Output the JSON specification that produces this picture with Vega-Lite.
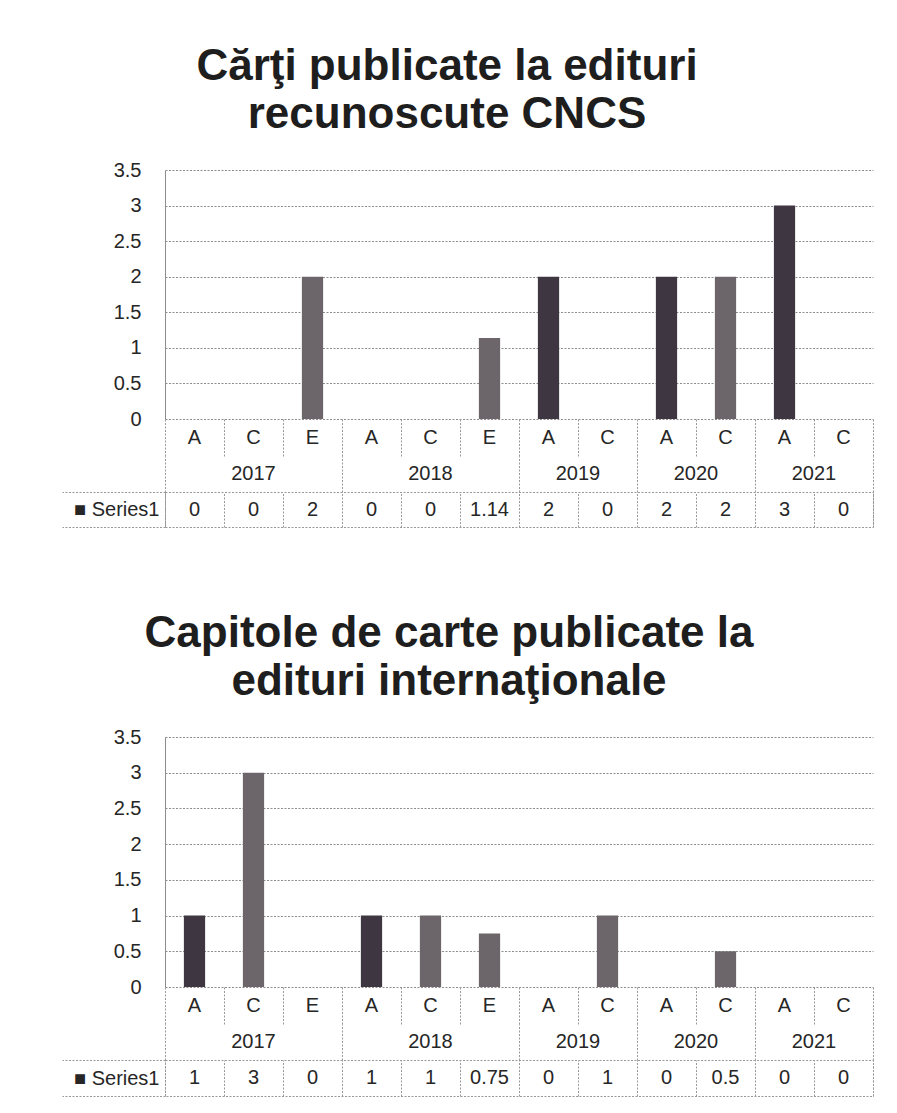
{
  "$schema": "https://vega.github.io/schema/vega-lite/v6.json",
  "background": "white",
  "padding": {"left": 61, "top": 45, "right": 10, "bottom": 10},
  "datasets": {
    "carti": [
      {"year": "2017", "letter": "A", "key": "2017-A", "value": 0},
      {"year": "2017", "letter": "C", "key": "2017-C", "value": 0},
      {"year": "2017", "letter": "E", "key": "2017-E", "value": 2},
      {"year": "2018", "letter": "A", "key": "2018-A", "value": 0},
      {"year": "2018", "letter": "C", "key": "2018-C", "value": 0},
      {"year": "2018", "letter": "E", "key": "2018-E", "value": 1.14},
      {"year": "2019", "letter": "A", "key": "2019-A", "value": 2},
      {"year": "2019", "letter": "C", "key": "2019-C", "value": 0},
      {"year": "2020", "letter": "A", "key": "2020-A", "value": 2},
      {"year": "2020", "letter": "C", "key": "2020-C", "value": 2},
      {"year": "2021", "letter": "A", "key": "2021-A", "value": 3},
      {"year": "2021", "letter": "C", "key": "2021-C", "value": 0}
    ],
    "capitole": [
      {"year": "2017", "letter": "A", "key": "2017-A", "value": 1},
      {"year": "2017", "letter": "C", "key": "2017-C", "value": 3},
      {"year": "2017", "letter": "E", "key": "2017-E", "value": 0},
      {"year": "2018", "letter": "A", "key": "2018-A", "value": 1},
      {"year": "2018", "letter": "C", "key": "2018-C", "value": 1},
      {"year": "2018", "letter": "E", "key": "2018-E", "value": 0.75},
      {"year": "2019", "letter": "A", "key": "2019-A", "value": 0},
      {"year": "2019", "letter": "C", "key": "2019-C", "value": 1},
      {"year": "2020", "letter": "A", "key": "2020-A", "value": 0},
      {"year": "2020", "letter": "C", "key": "2020-C", "value": 0.5},
      {"year": "2021", "letter": "A", "key": "2021-A", "value": 0},
      {"year": "2021", "letter": "C", "key": "2021-C", "value": 0}
    ]
  },
  "spacing": 84,
  "vconcat": [
    {
      "bounds": "flush",
      "spacing": 0,
      "resolve": {"scale": {"x": "independent", "y": "independent"}},
      "vconcat": [
        {
          "title": {"text": ["Cărţi publicate la edituri", "recunoscute CNCS"], "dx": -72},
          "width": 708, "height": 249,
          "data": {"name": "carti"},
          "view": {"stroke": null},
          "mark": {"type": "bar"},
          "encoding": {
            "x": {"field": "key", "type": "nominal", "axis": null,
                  "scale": {"domain": ["2017-A","2017-C","2017-E","2018-A","2018-C","2018-E","2019-A","2019-C","2020-A","2020-C","2021-A","2021-C"], "paddingInner": 0.64, "paddingOuter": 0.32}},
            "y": {"field": "value", "type": "quantitative",
                  "scale": {"domain": [0, 3.5], "nice": false},
                  "axis": {"title": null, "values": [0, 0.5, 1, 1.5, 2, 2.5, 3, 3.5], "format": "~g", "grid": true, "gridDash": [2, 1.5], "gridColor": "#8c8c8c", "domain": true, "domainColor": "#8c8c8c", "ticks": false, "labelPadding": 24}},
            "color": {"field": "letter", "type": "nominal", "legend": null,
                      "scale": {"domain": ["A", "C", "E"], "range": ["#3e3640", "#6c666b", "#6c666b"]}}
          }
        },
        {
          "width": 708, "height": 37,
          "data": {"name": "carti"},
          "view": {"stroke": null},
          "mark": {"type": "text"},
          "encoding": {
            "x": {"field": "key", "type": "nominal",
                  "scale": {"type": "band", "domain": ["2017-A","2017-C","2017-E","2018-A","2018-C","2018-E","2019-A","2019-C","2020-A","2020-C","2021-A","2021-C"], "paddingInner": 0, "paddingOuter": 0},
                  "axis": {"title": null, "labels": false, "ticks": false, "domain": false, "grid": true, "tickBand": "extent", "gridDash": [2, 1.5], "gridColor": "#999999"}},
            "text": {"field": "letter", "type": "nominal"}
          }
        },
        {
          "width": 708, "height": 36,
          "data": {"name": "carti"},
          "view": {"stroke": null},
          "transform": [
            {"joinaggregate": [{"op": "count", "as": "n"}], "groupby": ["year"]},
            {"filter": "datum.letter == 'C'"}
          ],
          "layer": [
            {
              "transform": [{"filter": "datum.n == 3"}],
              "mark": {"type": "text"},
              "encoding": {
                "x": {"field": "key", "type": "nominal",
                      "scale": {"type": "band", "domain": ["2017-A","2017-C","2017-E","2018-A","2018-C","2018-E","2019-A","2019-C","2020-A","2020-C","2021-A","2021-C"], "paddingInner": 0, "paddingOuter": 0},
                      "axis": {"title": null, "labels": false, "ticks": false, "domain": false, "grid": true, "tickBand": "extent", "gridDash": [2, 1.5], "gridColor": "#999999",
                               "gridOpacity": {"condition": {"test": "datum.extra || indexof(['2017-E','2018-E','2019-C','2020-C','2021-C'], datum.value) >= 0", "value": 1}, "value": 0}}},
                "text": {"field": "year", "type": "nominal"}
              }
            },
            {
              "transform": [{"filter": "datum.n == 2"}],
              "mark": {"type": "text"},
              "encoding": {
                "x": {"field": "key", "type": "nominal", "bandPosition": 0},
                "text": {"field": "year", "type": "nominal"}
              }
            }
          ]
        },
        {
          "width": 708, "height": 35,
          "data": {"name": "carti"},
          "view": {"stroke": "#999999", "strokeDash": [2, 1.5]},
          "mark": {"type": "text"},
          "encoding": {
            "x": {"field": "key", "type": "nominal",
                  "scale": {"type": "band", "domain": ["2017-A","2017-C","2017-E","2018-A","2018-C","2018-E","2019-A","2019-C","2020-A","2020-C","2021-A","2021-C"], "paddingInner": 0, "paddingOuter": 0},
                  "axis": {"title": null, "labels": false, "ticks": false, "domain": false, "grid": true, "tickBand": "extent", "gridDash": [2, 1.5], "gridColor": "#999999"}},
            "y": {"datum": "Series1", "type": "nominal",
                  "scale": {"type": "band", "paddingInner": 0, "paddingOuter": 0},
                  "axis": {"title": null, "domain": false, "grid": false, "ticks": true, "tickBand": "extent", "tickSize": 103, "tickDash": [2, 1.5], "tickColor": "#999999", "labelPadding": -97, "labelExpr": "datum.label ? '■ ' + datum.label : ''"}},
            "text": {"field": "value", "type": "nominal"}
          }
        }
      ]
    },
    {
      "bounds": "flush",
      "spacing": 0,
      "resolve": {"scale": {"x": "independent", "y": "independent"}},
      "vconcat": [
        {
          "title": {"text": ["Capitole de carte publicate la", "edituri internaţionale"], "dx": -70},
          "width": 708, "height": 250,
          "data": {"name": "capitole"},
          "view": {"stroke": null},
          "mark": {"type": "bar"},
          "encoding": {
            "x": {"field": "key", "type": "nominal", "axis": null,
                  "scale": {"domain": ["2017-A","2017-C","2017-E","2018-A","2018-C","2018-E","2019-A","2019-C","2020-A","2020-C","2021-A","2021-C"], "paddingInner": 0.64, "paddingOuter": 0.32}},
            "y": {"field": "value", "type": "quantitative",
                  "scale": {"domain": [0, 3.5], "nice": false},
                  "axis": {"title": null, "values": [0, 0.5, 1, 1.5, 2, 2.5, 3, 3.5], "format": "~g", "grid": true, "gridDash": [2, 1.5], "gridColor": "#8c8c8c", "domain": true, "domainColor": "#8c8c8c", "ticks": false, "labelPadding": 24}},
            "color": {"field": "letter", "type": "nominal", "legend": null,
                      "scale": {"domain": ["A", "C", "E"], "range": ["#3e3640", "#6c666b", "#6c666b"]}}
          }
        },
        {
          "width": 708, "height": 37,
          "data": {"name": "capitole"},
          "view": {"stroke": null},
          "mark": {"type": "text"},
          "encoding": {
            "x": {"field": "key", "type": "nominal",
                  "scale": {"type": "band", "domain": ["2017-A","2017-C","2017-E","2018-A","2018-C","2018-E","2019-A","2019-C","2020-A","2020-C","2021-A","2021-C"], "paddingInner": 0, "paddingOuter": 0},
                  "axis": {"title": null, "labels": false, "ticks": false, "domain": false, "grid": true, "tickBand": "extent", "gridDash": [2, 1.5], "gridColor": "#999999"}},
            "text": {"field": "letter", "type": "nominal"}
          }
        },
        {
          "width": 708, "height": 36,
          "data": {"name": "capitole"},
          "view": {"stroke": null},
          "transform": [
            {"joinaggregate": [{"op": "count", "as": "n"}], "groupby": ["year"]},
            {"filter": "datum.letter == 'C'"}
          ],
          "layer": [
            {
              "transform": [{"filter": "datum.n == 3"}],
              "mark": {"type": "text"},
              "encoding": {
                "x": {"field": "key", "type": "nominal",
                      "scale": {"type": "band", "domain": ["2017-A","2017-C","2017-E","2018-A","2018-C","2018-E","2019-A","2019-C","2020-A","2020-C","2021-A","2021-C"], "paddingInner": 0, "paddingOuter": 0},
                      "axis": {"title": null, "labels": false, "ticks": false, "domain": false, "grid": true, "tickBand": "extent", "gridDash": [2, 1.5], "gridColor": "#999999",
                               "gridOpacity": {"condition": {"test": "datum.extra || indexof(['2017-E','2018-E','2019-C','2020-C','2021-C'], datum.value) >= 0", "value": 1}, "value": 0}}},
                "text": {"field": "year", "type": "nominal"}
              }
            },
            {
              "transform": [{"filter": "datum.n == 2"}],
              "mark": {"type": "text"},
              "encoding": {
                "x": {"field": "key", "type": "nominal", "bandPosition": 0},
                "text": {"field": "year", "type": "nominal"}
              }
            }
          ]
        },
        {
          "width": 708, "height": 36,
          "data": {"name": "capitole"},
          "view": {"stroke": "#999999", "strokeDash": [2, 1.5]},
          "mark": {"type": "text"},
          "encoding": {
            "x": {"field": "key", "type": "nominal",
                  "scale": {"type": "band", "domain": ["2017-A","2017-C","2017-E","2018-A","2018-C","2018-E","2019-A","2019-C","2020-A","2020-C","2021-A","2021-C"], "paddingInner": 0, "paddingOuter": 0},
                  "axis": {"title": null, "labels": false, "ticks": false, "domain": false, "grid": true, "tickBand": "extent", "gridDash": [2, 1.5], "gridColor": "#999999"}},
            "y": {"datum": "Series1", "type": "nominal",
                  "scale": {"type": "band", "paddingInner": 0, "paddingOuter": 0},
                  "axis": {"title": null, "domain": false, "grid": false, "ticks": true, "tickBand": "extent", "tickSize": 103, "tickDash": [2, 1.5], "tickColor": "#999999", "labelPadding": -97, "labelExpr": "datum.label ? '■ ' + datum.label : ''"}},
            "text": {"field": "value", "type": "nominal"}
          }
        }
      ]
    }
  ],
  "config": {
    "font": "Liberation Sans",
    "title": {"font": "Liberation Sans", "fontSize": 44, "fontWeight": "bold", "color": "#1e1e1e", "lineHeight": 48, "anchor": "middle", "frame": "group", "offset": 23},
    "text": {"font": "Liberation Sans Narrow, Liberation Sans, sans-serif", "fontSize": 20, "color": "#262626"},
    "axis": {"labelFont": "Liberation Sans Narrow, Liberation Sans, sans-serif", "labelFontSize": 20, "labelColor": "#262626"}
  }
}
